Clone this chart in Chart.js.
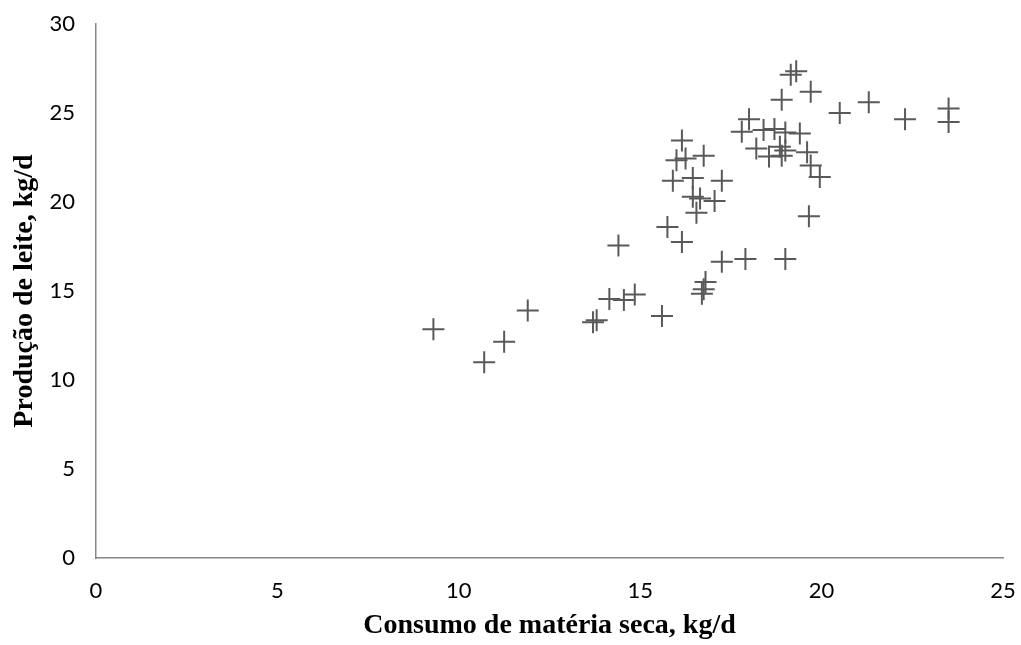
<!DOCTYPE html>
<html>
<head>
<meta charset="utf-8">
<script src="https://cdn.jsdelivr.net/npm/chart.js@4/dist/chart.umd.min.js"></script>
<style>
  html, body { margin: 0; padding: 0; background: #ffffff; }
  #wrap { width: 1021px; height: 645px; }
</style>
</head>
<body>
<div id="wrap"><canvas id="c" width="1021" height="645"></canvas></div>
<script>
// Consumo de matéria seca (kg/d)
const consumo = [
  9.3, 10.7, 11.25, 11.9, 13.7, 13.8, 14.15, 14.55, 14.85, 15.6,
  14.4, 15.75, 16.15, 16.8, 16.75, 16.7, 17.25, 17.9, 19.0,
  15.9, 16.45, 17.25, 16.0, 16.25, 16.75, 16.15, 16.45, 16.65, 17.05, 16.55,
  19.65, 19.95, 19.7, 19.6, 18.2, 18.55, 18.85, 18.9, 19.0,
  17.8, 18.0, 18.4, 18.7, 19.0, 19.4, 18.9, 19.15, 19.3, 19.7,
  20.5, 21.3, 22.3, 23.5, 23.5
];
// Produção de leite (kg/d)
const producao = [
  12.85, 11.0, 12.15, 13.9, 13.25, 13.35, 14.55, 14.5, 14.8, 13.6,
  17.55, 18.6, 17.75, 15.5, 15.1, 14.85, 16.65, 16.8, 16.8,
  21.2, 21.35, 21.2, 22.35, 22.45, 22.6, 23.45, 20.3, 20.2, 20.05, 19.4,
  19.2, 21.4, 22.05, 22.8, 23.0, 22.55, 23.1, 22.6, 22.9,
  23.95, 24.65, 24.05, 24.1, 23.9, 23.85, 25.75, 27.15, 27.35, 26.2,
  25.0, 25.6, 24.65, 25.25, 24.5
];
const xTicks = [0, 5, 10, 15, 20, 25];
const yTicks = [0, 5, 10, 15, 20, 25, 30];
const xTitle = 'Consumo de matéria seca, kg/d';
const yTitle = 'Produção de leite, kg/d';

const points = consumo.map((x, i) => ({ x: x, y: producao[i] }));

const bgPlugin = {
  id: 'bg',
  beforeDraw(chart) {
    const ctx = chart.ctx;
    ctx.save();
    ctx.fillStyle = '#ffffff';
    ctx.fillRect(0, 0, chart.width, chart.height);
    ctx.restore();
  }
};

const axisColor = '#868686';
const tickFont = { family: 'Lato', size: 22 };
const titleFont = { family: 'Liberation Serif', size: 28, weight: 'bold' };

new Chart(document.getElementById('c'), {
  type: 'scatter',
  data: {
    datasets: [{
      data: points,
      pointStyle: 'cross',
      pointRadius: 11,
      pointHoverRadius: 11,
      borderColor: '#595959',
      backgroundColor: '#595959',
      pointBorderWidth: 2,
      borderWidth: 2
    }]
  },
  options: {
    responsive: false,
    devicePixelRatio: 1,
    animation: false,
    layout: { padding: { top: 24, right: 18, left: 0, bottom: 0 } },
    plugins: {
      legend: { display: false },
      tooltip: { enabled: false }
    },
    scales: {
      x: {
        type: 'linear',
        min: 0, max: 25,
        afterBuildTicks(axis) { axis.ticks = xTicks.map(v => ({ value: v })); },
        afterFit(axis) { axis.height = 87; axis.paddingLeft = 0; axis.paddingRight = 0; },
        grid: { display: false, drawOnChartArea: false, drawTicks: true, tickLength: 8, tickColor: axisColor },
        border: { display: true, color: axisColor, width: 1.5 },
        ticks: { color: '#000000', font: tickFont, padding: 12, maxRotation: 0 },
        title: { display: true, text: xTitle, color: '#000000', font: titleFont, padding: { top: 0, bottom: 2 } }
      },
      y: {
        type: 'linear',
        min: 0, max: 30,
        afterBuildTicks(axis) { axis.ticks = yTicks.map(v => ({ value: v })); },
        afterFit(axis) { axis.width = 96; axis.paddingTop = 0; axis.paddingBottom = 0; },
        grid: { display: false, drawOnChartArea: false, drawTicks: true, tickLength: 8, tickColor: axisColor },
        border: { display: true, color: axisColor, width: 1.5 },
        ticks: { color: '#000000', font: tickFont, padding: 13 },
        title: { display: true, text: yTitle, color: '#000000', font: titleFont, padding: { top: 8, bottom: 0 } }
      }
    }
  },
  plugins: [bgPlugin]
});
</script>
</body>
</html>
